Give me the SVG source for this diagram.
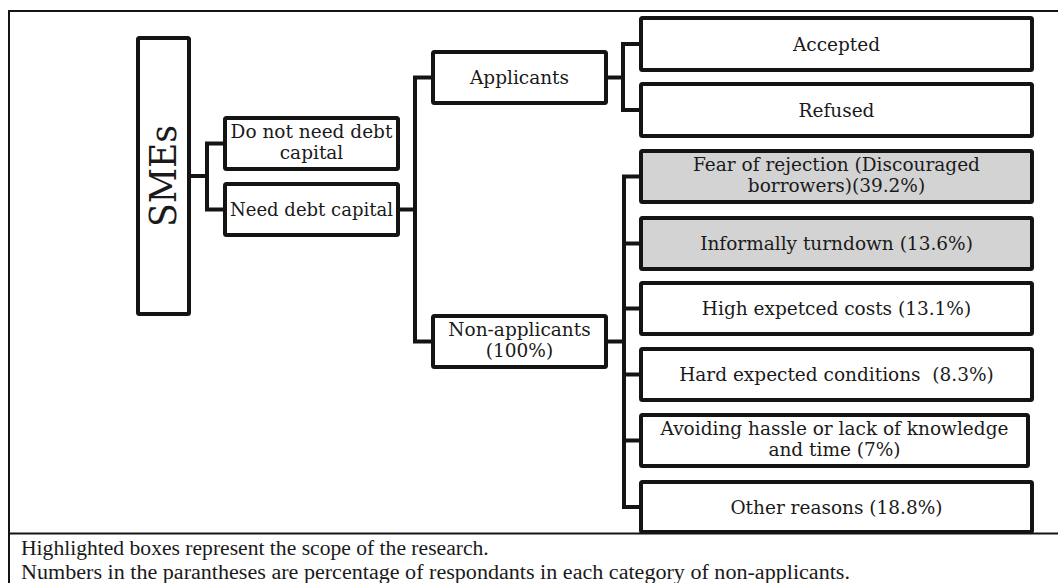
<svg xmlns="http://www.w3.org/2000/svg" width="1058" height="583" viewBox="0 0 1058 583">
<style>
.box{fill:#fff;stroke:#141414;stroke-width:4;}
.hl{fill:#d3d3d3;}
.t{font-family:"DejaVu Serif","Liberation Serif",serif;font-size:18.5px;fill:#1a1a1a;text-anchor:middle;}
.cap{font-family:"Liberation Serif","Times New Roman",serif;font-size:21.6px;fill:#1a1a1a;}
.conn{fill:none;stroke:#141414;stroke-width:4;stroke-linejoin:miter;stroke-linecap:square;}
.frame{fill:none;stroke:#141414;stroke-width:2;}
</style>
<rect width="1058" height="583" fill="#fff"/>
<g id="frame">
<path class="frame" d="M9,583 V11 H1058 M9,533.5 H1058"/>
</g>
<g id="connectors">
<path class="conn" d="M189,176 H207 M225,143.5 H207 V209.5 H225"/>
<path class="conn" d="M398,209.5 H415 M433,77.5 H415 V341.5 H433"/>
<path class="conn" d="M606,77.5 H623 M641,44 H623 V110 H641"/>
<path class="conn" d="M606,341.5 H624 M641,176.5 H624 V507 H641 M624,243.5 H641 M624,308.5 H641 M624,374.5 H641 M624,440.5 H641"/>
</g>
<g id="n-smes">
<rect class="box" x="138" y="38" width="51" height="276" rx="1.5"/>
<text x="0" y="0" transform="translate(175.5,176) rotate(-90)" text-anchor="middle" font-family="DejaVu Serif, Liberation Serif, serif" font-size="37" fill="#1a1a1a" textLength="102" lengthAdjust="spacingAndGlyphs">SMEs</text>
</g>
<g id="n-donotneed">
<rect class="box" x="225" y="118" width="173" height="51" rx="1.5"/>
<text class="t" x="311.5" y="138">Do not need debt</text>
<text class="t" x="311.5" y="159">capital</text>
</g>
<g id="n-need">
<rect class="box" x="225" y="184" width="173" height="51" rx="1.5"/>
<text class="t" x="311.5" y="216" textLength="163" lengthAdjust="spacingAndGlyphs">Need debt capital</text>
</g>
<g id="n-applicants">
<rect class="box" x="433" y="52" width="173" height="51" rx="1.5"/>
<text class="t" x="519.5" y="84">Applicants</text>
</g>
<g id="n-nonapplicants">
<rect class="box" x="433" y="316" width="173" height="51" rx="1.5"/>
<text class="t" x="519.5" y="336">Non-applicants</text>
<text class="t" x="519.5" y="357">(100%)</text>
</g>
<g id="n-accepted">
<rect class="box" x="641" y="18" width="391" height="52" rx="1.5"/>
<text class="t" x="836.5" y="51">Accepted</text>
</g>
<g id="n-refused">
<rect class="box" x="641" y="84" width="391" height="52" rx="1.5"/>
<text class="t" x="836.5" y="117">Refused</text>
</g>
<g id="n-fear">
<rect class="box hl" x="641" y="151" width="391" height="51" rx="1.5"/>
<text class="t" x="836.5" y="171">Fear of rejection (Discouraged</text>
<text class="t" x="836.5" y="192">borrowers)(39.2%)</text>
</g>
<g id="n-informal">
<rect class="box hl" x="641" y="218" width="391" height="51" rx="1.5"/>
<text class="t" x="836.5" y="250">Informally turndown (13.6%)</text>
</g>
<g id="n-high">
<rect class="box" x="641" y="283" width="391" height="51" rx="1.5"/>
<text class="t" x="836.5" y="315">High expetced costs (13.1%)</text>
</g>
<g id="n-hard">
<rect class="box" x="641" y="349" width="391" height="51" rx="1.5"/>
<text class="t" x="836.5" y="381" xml:space="preserve">Hard expected conditions  (8.3%)</text>
</g>
<g id="n-avoid">
<rect class="box" x="641" y="415" width="387" height="51" rx="1.5"/>
<text class="t" x="834.5" y="435">Avoiding hassle or lack of knowledge</text>
<text class="t" x="834.5" y="456">and time (7%)</text>
</g>
<g id="n-other">
<rect class="box" x="641" y="482" width="391" height="50" rx="1.5"/>
<text class="t" x="836.5" y="514">Other reasons (18.8%)</text>
</g>
<g id="caption">
<text class="cap" x="21" y="555">Highlighted boxes represent the scope of the research.</text>
<text class="cap" x="21" y="578.5" textLength="829" lengthAdjust="spacingAndGlyphs">Numbers in the parantheses are percentage of respondants in each category of non-applicants.</text>
</g>
</svg>
